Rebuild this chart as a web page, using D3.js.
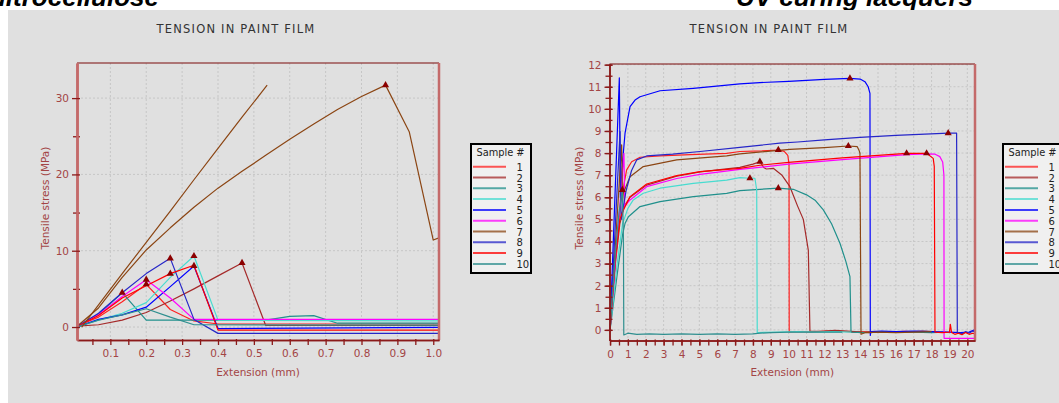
<!DOCTYPE html>
<html>
<head>
<meta charset="utf-8">
<script src="https://cdn.jsdelivr.net/npm/d3@7"></script>
<style>
  body { margin: 0; background: #fff; }
  svg { display: block; }
  text { font-family: "DejaVu Sans", Verdana, sans-serif; }
</style>
</head>
<body>
<svg id="chart" width="1059" height="403"></svg>
<script>
'use strict';

// legend / samples
const sampleLabels = ['1', '2', '3', '4', '5', '6', '7', '8', '9', '10'];
const sampleColors = ['#ff2020', '#a52a2a', '#20908c', '#48dcd0', '#0000ff',
                      '#ff00ff', '#8b4513', '#2626c8', '#ff0000', '#2f8f8f'];

// ---- Nitrocellulose (left) : [extension mm, stress MPa]
const nitro1 = [[0.005,0.1],[0.067,1.3],[0.133,3.3],[0.2,5.6],[0.267,2.3],[0.333,0.8],[0.4,0.4],[1.016,0.4]];
const nitro2 = [[0.005,0.1],[0.067,0.3],[0.133,0.9],[0.2,1.9],[0.267,3.4],[0.333,5.0],[0.4,6.7],[0.467,8.4],[0.533,0.2],[1.016,0.2]];
const nitro3 = [[0.005,0],[0.067,1.7],[0.133,4.5],[0.2,0.9],[0.267,0.9],[0.333,0.9],[0.4,0.9],[0.467,0.9],[0.533,0.9],[0.6,1.4],[0.667,1.5],[0.733,0.5],[1.016,0.5]];
const nitro4 = [[0.005,0],[0.067,0.9],[0.133,1.8],[0.2,3.2],[0.267,6.5],[0.333,9.3],[0.4,0.9],[1.016,0.8]];
const nitro5 = [[0.005,0],[0.067,1.0],[0.133,1.6],[0.2,2.6],[0.267,5.3],[0.333,8.0],[0.4,-0.2],[1.016,-0.05]];
const nitro6 = [[0.005,0],[0.067,1.6],[0.133,4.0],[0.2,6.2],[0.267,3.8],[0.333,1.0],[1.016,1.0]];
const nitro7 = [[0.005,0],[0.067,2.5],[0.133,6.5],[0.2,10.1],[0.267,13.0],[0.333,15.7],[0.4,18.2],[0.467,20.4],[0.533,22.5],[0.6,24.6],[0.667,26.6],[0.733,28.5],[0.8,30.2],[0.867,31.7],[0.933,25.6],[1.0,11.4],[1.016,11.7]];
const nitro7b = [[0.02,0],[0.067,2.9],[0.133,7.0],[0.2,11.1],[0.267,15.2],[0.333,19.3],[0.4,23.4],[0.467,27.5],[0.537,31.7]];
const nitro8 = [[0.005,0],[0.067,1.8],[0.133,4.5],[0.2,7.0],[0.267,9.0],[0.333,1.0],[0.4,-0.83],[1.016,-0.83]];
const nitro9 = [[0.005,0],[0.067,1.5],[0.133,3.8],[0.2,5.4],[0.267,7.0],[0.333,8.1],[0.4,-0.4],[1.016,-0.4]];
const nitro10 = [[0.005,0],[0.067,0.9],[0.133,1.6],[0.2,2.4],[0.267,1.3],[0.333,0.3],[1.016,0.25]];
const nitroPeaks = [[0.133,4.5],[0.2,5.6],[0.2,6.2],[0.267,9.0],[0.267,7.0],[0.333,9.3],[0.333,8.0],[0.467,8.4],[0.867,31.7]];

// ---- UV curing lacquers (right)
const uv1 = [[0,0],[0.3,3.2],[0.6,5.8],[0.93,7.24],[1.21,7.61],[1.68,7.81],[2.8,7.87],[4.5,7.93],[6.53,7.99],[7.27,8.07],[8.5,8.1],[9.42,8.14],[9.75,8.08],[9.95,7.9],[10.02,7.5],
  [10.03,-0.1],[10.6,-0.08],[11.3,-0.1],[12,-0.06],[12.8,-0.05],[13.6,-0.1],[14.5,-0.08],[15.5,-0.1],[16.5,-0.07],[17.5,-0.1],[18.2,-0.1]];
const uv2 = [[0,0],[0.3,3.0],[0.55,4.8],[0.8,5.6],[1.12,6.0],[2.05,6.55],[3.73,6.95],[5.04,7.15],[7.27,7.35],[8.0,7.5],[8.39,7.61],[8.6,7.35],[8.75,7.28],[9.14,7.31],[9.61,7.01],[10.07,6.48],[10.5,5.6],[10.82,5.0],[11.1,3.6],
  [11.19,-0.07],[12,-0.05],[12.6,-0.02],[13.5,-0.07],[14.5,-0.12],[15.5,-0.08],[16.5,-0.1],[17.5,-0.06],[18.1,-0.08]];
const uv3 = [[0,0],[0.4,2.5],[0.7,4.3],[0.84,4.82],[1.03,5.12],[1.68,5.58],[2.8,5.8],[4.66,6.03],[6.53,6.18],[7.27,6.3],[8.39,6.36],[9.42,6.41],[10.26,6.36],[11.0,6.11],[11.5,5.85],[11.94,5.43],[12.4,4.8],[12.87,3.92],[13.2,3.1],[13.43,2.41],
  [13.49,-0.1],[14.2,-0.12],[15,-0.08],[16,-0.1],[17,-0.1],[18,-0.12],[18.7,-0.1]];
const uv4 = [[0,0],[0.4,3.0],[0.7,4.8],[1.0,5.5],[1.3,5.88],[1.86,6.18],[2.8,6.41],[4.66,6.63],[6.53,6.78],[7.27,6.89],[7.83,6.86],[8.11,6.86],[8.21,6.33],
  [8.24,-0.12],[9.5,-0.1],[10.5,-0.08],[11.5,-0.1],[12.5,-0.08],[13.5,-0.1]];
const uv5 = [[0,0],[0.52,11.4],[0.58,6.0],[0.7,7.6],[0.84,8.9],[1.12,10.1],[1.4,10.4],[1.68,10.55],[2.8,10.82],[4.66,10.93],[7.27,11.13],[8.39,11.19],[10,11.24],[12,11.33],[13.43,11.38],[14.0,11.35],[14.27,11.23],[14.45,11.0],[14.55,10.7],
  [14.57,-0.25],[14.6,-0.08],[15.2,-0.05],[16,-0.08],[17,-0.05],[18,-0.08],[19,-0.1],[19.6,-0.12],[20.1,-0.1],[20.4,0.0]];
const uv6 = [[0,0],[0.78,7.99],[0.82,5.6],[1.12,5.88],[2.05,6.48],[3.73,6.85],[5.04,7.04],[7.27,7.26],[10,7.5],[13,7.7],[16.6,7.93],[17.72,7.96],[18.2,7.95],[18.46,7.84],[18.62,7.6],[18.69,7.0],
  [18.7,-0.38],[20.43,-0.38]];
const uv7 = [[0,0],[0.65,8.37],[0.7,5.8],[0.74,6.18],[1.12,6.93],[1.86,7.39],[3.73,7.69],[6.53,7.87],[7.27,7.96],[10.07,8.17],[12,8.25],[13.34,8.32],[13.84,8.29],[13.95,8.1],[13.99,7.99],
  [14.05,-0.2],[14.3,-0.12],[15,-0.1],[16,-0.12],[17,-0.1],[18,-0.08]];
const uv8 = [[0,0],[0.56,8.97],[0.62,5.0],[0.9,6.3],[1.2,7.2],[1.49,7.69],[2.05,7.87],[3.5,7.95],[5.04,8.07],[7.27,8.26],[9.5,8.45],[10.5,8.5],[12,8.6],[13.99,8.71],[16,8.8],[18.93,8.9],[19.4,8.9],
  [19.44,-0.12],[19.7,-0.18],[19.9,-0.08],[20.1,-0.15],[20.3,-0.05],[20.43,-0.1]];
const uv9 = [[0,0],[0.3,3.2],[0.55,5.0],[0.75,5.43],[1.12,6.03],[2.05,6.6],[3.73,6.98],[5.04,7.16],[7.27,7.31],[8.39,7.45],[10,7.58],[13,7.78],[16.6,7.99],[17.72,7.99],[18.09,7.76],[18.15,7.4],
  [18.19,-0.1],[18.6,-0.12],[19.0,-0.1],[19.05,0.25],[19.12,-0.12],[19.3,-0.2],[19.5,-0.15],[19.7,-0.22],[19.9,-0.12],[20.1,-0.2],[20.3,-0.15],[20.43,-0.18]];
const uv10 = [[0,0],[0.3,3.5],[0.5,5.3],[0.69,6.33],[0.75,4.2],
  [0.77,-0.23],[1,-0.15],[1.5,-0.2],[2.2,-0.18],[3,-0.2],[4,-0.18],[5,-0.2],[6,-0.18],[7,-0.2],[8,-0.18],[8.4,-0.15],[9,-0.12],[10,-0.1],[11,-0.1],[12,-0.1],[13,-0.1]];
const uvPeaks = [[13.43,11.38],[18.93,8.9],[9.42,8.14],[13.34,8.32],[16.6,7.99],[17.72,7.99],[8.39,7.61],[7.83,6.86],[9.42,6.41],[0.69,6.33]];

// tick values
const nitroXTicks = [0.1,0.2,0.3,0.4,0.5,0.6,0.7,0.8,0.9,1.0];
const nitroXMinor = [0.05,0.15,0.25,0.35,0.45,0.55,0.65,0.75,0.85,0.95];
const nitroYTicks = [0,10,20,30];
const nitroYMinor = [5,15,25];
const uvXTicks = d3.range(0, 21);
const uvXMinor = d3.range(0, 41).map(i => i / 2);
const uvYTicks = d3.range(0, 13);
const uvYMinor = d3.range(0, 25).map(i => i / 2);

const headings = ['Nitrocellulose', 'UV curing lacquers'];

const svg = d3.select('#chart');

// heading text, its top is cut by the page edge
svg.selectAll('.heading').data([[159, headings[0]], [973, headings[1]]]).join('text')
  .attr('x', d => d[0]).attr('y', 6).attr('text-anchor', 'end')
  .style('font-family', '"Liberation Sans", Arial, sans-serif')
  .style('font-size', '26px').style('font-weight', 'bold').style('font-style', 'italic')
  .text(d => d[1]);

svg.append('rect').attr('x', 8).attr('y', 10).attr('width', 1051).attr('height', 393).attr('fill', '#e0e0e0');

const AXIS_DARK = '#8b1a1a';
const AXIS_PALE = '#c46a6a';
const LABEL_COL = '#a34545';

function drawPanel(opt) {
  const x = d3.scaleLinear().domain(opt.xDomain).range([opt.left, opt.right]);
  const y = d3.scaleLinear().domain(opt.yDomain).range([opt.bottom, opt.top]);
  const g = svg.append('g');

  g.append('text').attr('x', opt.titleX).attr('y', 33).attr('text-anchor', 'middle')
    .attr('fill', '#333').style('font-size', '11.5px').style('letter-spacing', '1.2px')
    .text('TENSION IN PAINT FILM');

  // grid
  g.selectAll('.vgrid').data(opt.xGrid).join('line')
    .attr('x1', d => x(d)).attr('x2', d => x(d)).attr('y1', opt.top).attr('y2', opt.bottom)
    .attr('stroke', '#c6c6c6').attr('stroke-dasharray', '2,2');
  g.selectAll('.hgrid').data(opt.yGrid).join('line')
    .attr('x1', opt.left).attr('x2', opt.right).attr('y1', d => y(d)).attr('y2', d => y(d))
    .attr('stroke', '#c6c6c6').attr('stroke-dasharray', '2,2');

  const clipId = 'clip' + Math.round(opt.left);
  svg.append('clipPath').attr('id', clipId).append('rect')
    .attr('x', opt.left).attr('y', opt.top).attr('width', opt.right - opt.left).attr('height', opt.bottom - opt.top);

  const line = d3.line().x(d => x(d[0])).y(d => y(d[1]));
  const lines = g.append('g').attr('clip-path', `url(#${clipId})`);
  lines.selectAll('path').data(opt.series).join('path')
    .attr('d', d => line(d.values))
    .attr('fill', 'none').attr('stroke', d => d.color).attr('stroke-width', 1.2)
    .attr('stroke-linejoin', 'round');

  g.selectAll('.peak').data(opt.peaks).join('path')
    .attr('transform', d => `translate(${x(d[0])},${y(d[1])})`)
    .attr('d', d3.symbol(d3.symbolTriangle).size(22))
    .attr('fill', '#8b0000');

  // frame: top dark, right pale
  g.append('line').attr('x1', opt.left).attr('x2', opt.right).attr('y1', opt.top).attr('y2', opt.top)
    .attr('stroke', '#7a0a0a').attr('stroke-width', 1.2);
  g.append('line').attr('x1', opt.right).attr('x2', opt.right).attr('y1', opt.top).attr('y2', opt.bottom)
    .attr('stroke', AXIS_PALE).attr('stroke-width', 2.5);

  // bottom axis
  const xMinorAxis = d3.axisBottom(x).tickValues(opt.xMinor).tickSize(5).tickSizeOuter(0).tickFormat('');
  const xAxis = d3.axisBottom(x).tickValues(opt.xTicks).tickSize(5).tickSizeOuter(0).tickPadding(5)
    .tickFormat(opt.xFormat);
  const gxm = g.append('g').attr('transform', `translate(0,${opt.bottom})`).call(xMinorAxis);
  const gx = g.append('g').attr('transform', `translate(0,${opt.bottom})`).call(xAxis);
  [gx, gxm].forEach(a => {
    a.select('.domain').attr('stroke', AXIS_DARK).attr('stroke-width', 1.5);
    a.selectAll('.tick line').attr('stroke', AXIS_DARK).attr('stroke-width', 1.3).attr('y1', -1);
    a.selectAll('.tick text').attr('fill', LABEL_COL).style('font-size', '10.5px')
      .style('font-family', '"DejaVu Sans", Verdana, sans-serif');
  });

  // left axis
  const yMinorAxis = d3.axisLeft(y).tickValues(opt.yMinor).tickSize(4).tickSizeOuter(0).tickFormat('');
  const yAxis = d3.axisLeft(y).tickValues(opt.yTicks).tickSize(5).tickSizeOuter(0).tickPadding(3);
  const gym = g.append('g').attr('transform', `translate(${opt.left},0)`).call(yMinorAxis);
  const gy = g.append('g').attr('transform', `translate(${opt.left},0)`).call(yAxis);
  [gy, gym].forEach(a => {
    a.select('.domain').attr('stroke', opt.yAxisColor).attr('stroke-width', opt.yAxisWidth);
    a.selectAll('.tick line').attr('stroke', AXIS_DARK).attr('stroke-width', 1.3).attr('x1', 3);
    a.selectAll('.tick text').attr('fill', LABEL_COL).style('font-size', '10.5px')
      .style('font-family', '"DejaVu Sans", Verdana, sans-serif');
  });

  g.append('text').attr('x', (opt.left + opt.right) / 2).attr('y', 376).attr('text-anchor', 'middle')
    .attr('fill', LABEL_COL).style('font-size', '10.5px').text('Extension (mm)');
  g.append('text').attr('transform', `translate(${opt.yLabelX},${opt.yLabelY}) rotate(-90)`)
    .attr('text-anchor', 'middle').attr('fill', LABEL_COL).style('font-size', '10.5px')
    .text('Tensile stress (MPa)');

  // legend
  const lg = g.append('g').attr('transform', `translate(${opt.legendX},144)`);
  lg.append('rect').attr('width', 60).attr('height', 129).attr('fill', '#f0f0f0')
    .attr('stroke', '#000').attr('stroke-width', 2);
  lg.append('text').attr('x', 29.5).attr('y', 12).attr('text-anchor', 'middle')
    .attr('fill', '#222').style('font-size', '9.8px').text('Sample #');
  const rows = lg.selectAll('.row').data(sampleLabels).join('g')
    .attr('transform', (d, i) => `translate(0,${22.7 + i * 10.8})`);
  rows.append('line').attr('x1', 2).attr('x2', 35).attr('y1', 0).attr('y2', 0)
    .attr('stroke', (d, i) => sampleColors[i]).attr('stroke-width', 2).attr('stroke-opacity', 0.75);
  rows.append('text').attr('x', 45.5).attr('y', 4).attr('fill', '#222').style('font-size', '10px').text(d => d);
}

const nitroSeries = [nitro1, nitro2, nitro3, nitro4, nitro5, nitro6, nitro7, nitro8, nitro9, nitro10]
  .map((v, i) => ({ values: v, color: sampleColors[i] }));
nitroSeries.push({ values: nitro7b, color: sampleColors[6] });

drawPanel({
  left: 77, right: 439, top: 63, bottom: 340,
  xDomain: [0.007, 1.016], yDomain: [-1.7, 34.6],
  xTicks: nitroXTicks, xMinor: nitroXMinor, xGrid: nitroXTicks,
  yTicks: nitroYTicks, yMinor: nitroYMinor, yGrid: nitroYTicks,
  xFormat: d3.format('.1f'),
  yAxisColor: AXIS_PALE, yAxisWidth: 2.5,
  series: nitroSeries, peaks: nitroPeaks,
  titleX: 236, yLabelX: 49, yLabelY: 198, legendX: 471
});

const uvSeries = [uv1, uv2, uv3, uv4, uv5, uv6, uv7, uv8, uv9, uv10]
  .map((v, i) => ({ values: v, color: sampleColors[i] }));

drawPanel({
  left: 609.5, right: 975, top: 64, bottom: 340.5,
  xDomain: [-0.03, 20.43], yDomain: [-0.48, 12.03],
  xTicks: uvXTicks, xMinor: uvXMinor, xGrid: uvXTicks,
  yTicks: uvYTicks, yMinor: uvYMinor, yGrid: uvYTicks,
  xFormat: d3.format('d'),
  yAxisColor: AXIS_DARK, yAxisWidth: 1.5,
  series: uvSeries, peaks: uvPeaks,
  titleX: 769, yLabelX: 583, yLabelY: 198, legendX: 1003
});
</script>
</body>
</html>
